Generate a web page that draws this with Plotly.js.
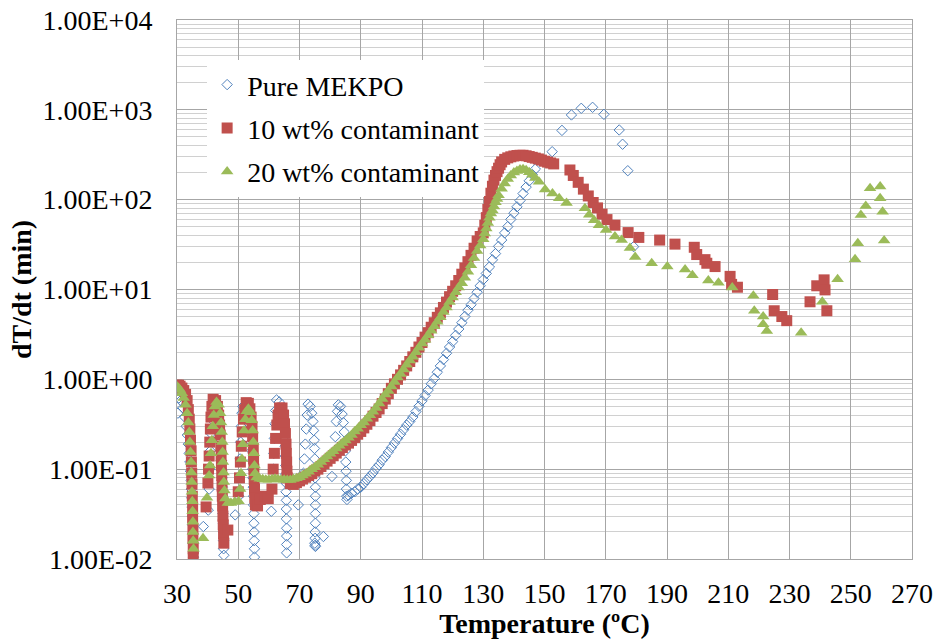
<!DOCTYPE html>
<html>
<head>
<meta charset="utf-8">
<script src="https://cdn.plot.ly/plotly-3.0.1.min.js"></script>
<style>
html,body{margin:0;padding:0;background:#fff;}
#chart{width:940px;height:639px;}
</style>
</head>
<body>
<div id="chart"></div>
<script>
// ---- Pure MEKPO ----
const pureLowT = [
  30.3,30.6,31.2,31.9,32.5,33.0,33.4,33.7,34.0,34.2,34.4,34.6,34.7,34.8,34.9,35.0,35.1,35.2,35.3,35.3,35.4,
  38.6,40.2,40.5,40.7,40.9,41.1,41.3,41.6,
  42.3,42.9,43.4,43.8,44.1,44.3,44.5,44.6,44.7,44.8,44.9,45.0,45.0,45.1,45.1,45.2,45.2,45.3,
  49.0,50.2,50.4,50.6,50.8,51.0,51.2,51.5,
  52.3,53.0,53.5,53.9,54.2,54.4,54.6,54.7,54.8,54.9,55.0,55.0,55.1,55.1,55.2,55.2,55.3,55.3,
  60.8,61.4,61.6,61.8,62.0,62.2,62.5,
  63.4,64.1,64.6,64.9,65.1,65.3,65.4,65.5,65.5,65.6,65.6,65.7,65.7,65.7,65.8,65.8,65.8,65.8,
  69.6,71.3,71.6,71.9,72.2,72.5,72.8,
  73.5,74.0,74.4,74.6,74.8,74.9,75.0,75.1,75.1,75.2,75.2,75.2,75.2,75.2,75.1,75.1,75.0,75.1,75.2,
  77.8,
  80.6,81.2,81.7,82.0,82.4,82.7,
  83.4,83.9,84.3,84.6,84.8,85.0,85.1,85.2,85.3,85.3,85.4,85.5
];
const pureLowRate = [
  0.42,0.62,0.58,0.48,0.38,0.30,0.24,0.19,0.15,0.12,0.095,0.075,0.06,0.048,0.038,0.03,0.024,0.019,0.015,0.012,0.0105,
  0.023,0.035,0.06,0.1,0.16,0.25,0.36,0.46,
  0.45,0.38,0.31,0.25,0.2,0.16,0.125,0.1,0.08,0.063,0.05,0.04,0.032,0.025,0.02,0.016,0.013,0.011,
  0.031,0.05,0.08,0.13,0.2,0.3,0.42,0.5,
  0.48,0.4,0.32,0.26,0.2,0.16,0.125,0.1,0.08,0.063,0.05,0.04,0.032,0.025,0.02,0.016,0.013,0.0105,
  0.034,0.1,0.15,0.22,0.32,0.45,0.59,
  0.56,0.46,0.37,0.29,0.23,0.18,0.14,0.11,0.088,0.07,0.056,0.045,0.036,0.028,0.022,0.018,0.0145,0.0117,
  0.04,0.09,0.13,0.19,0.28,0.4,0.53,
  0.5,0.42,0.34,0.27,0.21,0.17,0.13,0.1,0.08,0.063,0.05,0.04,0.032,0.025,0.02,0.017,0.015,0.0142,0.0138,
  0.0178,
  0.083,0.14,0.23,0.34,0.44,0.52,
  0.5,0.41,0.33,0.26,0.2,0.16,0.12,0.095,0.075,0.06,0.05,0.046
];
const pureRiseT = [
  86,87,88,89,90,91,92,93,94,95,96,97,98,99,100,101,102,103,104,105,
  106,107,108,109,110,111,112,113,114,115,116,117,118,119,120,121,122,123,124,125,
  126,127,128,129,130,131,132,133,134,135,136,137,138,139,140,141,142,143,144,145,146,147
];
const pureRiseRate = [
  0.051,0.054,0.056,0.060,0.063,0.069,0.076,0.083,0.091,0.102,0.112,0.126,0.138,0.155,0.174,0.195,0.219,0.245,0.275,0.309,
  0.339,0.380,0.437,0.501,0.575,0.661,0.759,0.891,1.02,1.20,1.41,1.66,1.95,2.29,2.63,3.09,3.63,4.27,5.01,5.89,
  6.76,7.94,9.33,11.0,12.9,15.1,17.8,21.4,25.1,30.2,35.5,42.7,50.1,60.3,70.8,83.2,97.7,117,138,162,191,219
];
const pureTailT = [152.5,155.7,158.8,162.0,165.7,169.4,174.4,175.5,177.2,179.1];
const pureTailRate = [342,590,877,1040,1067,891,597,414,210,30];

// ---- 10 wt% contaminant ----
const c10LowT = [
  30.0,30.5,31.0,31.6,32.2,32.8,33.3,33.7,34.0,34.2,34.4,34.6,34.7,34.8,34.9,35.0,35.1,35.1,35.2,35.2,35.3,35.3,
  39.5,
  40.1,40.3,40.5,40.7,40.9,41.1,41.4,41.8,
  42.6,43.2,43.6,43.9,44.1,44.3,44.4,44.5,44.6,44.7,44.8,44.9,45.0,45.1,45.2,45.3,46.6,
  50.0,50.4,50.7,51.0,51.3,51.7,52.1,52.6,
  53.3,53.8,54.2,54.5,54.7,54.9,55.0,55.1,55.2,55.3,55.4,55.6,56.3,57.2,58.6,59.8,
  61.0,61.4,61.8,62.2,62.6,63.0,63.5,
  64.3,64.8,65.1,65.4,65.6,65.7,65.8,65.9,66.0
];
const c10LowRate = [
  0.86,0.86,0.84,0.8,0.75,0.68,0.58,0.46,0.36,0.28,0.21,0.16,0.12,0.09,0.068,0.05,0.038,0.029,0.022,0.017,0.013,0.0105,
  0.038,
  0.07,0.1,0.14,0.2,0.28,0.38,0.5,0.6,
  0.58,0.5,0.4,0.31,0.24,0.18,0.14,0.11,0.085,0.065,0.05,0.039,0.03,0.024,0.019,0.015,0.021,
  0.056,0.08,0.12,0.18,0.26,0.36,0.46,0.55,
  0.54,0.47,0.38,0.3,0.23,0.17,0.13,0.1,0.077,0.06,0.048,0.04,0.039,0.046,0.05,0.047,
  0.06,0.1,0.15,0.22,0.31,0.4,0.48,
  0.48,0.4,0.32,0.25,0.19,0.15,0.12,0.095,0.08
];
const c10RiseT = [
  67,68,69,70,71,72,73,74,75,76,77,78,79,80,81,82,83,84,85,86,
  87,88,89,90,91,92,93,94,95,96,97,98,99,100,101,102,103,104,105,106,
  107,108,109,110,111,112,113,114,115,116,117,118,119,120,121,122,123,124,125,126,
  127,128,129,130,130.5,131,131.5,132,132.5,133,133.5,134,134.5,135,135.5,
  136,137,138,139,140,141,142,143,144,145,146,147,148,149,150,151,152,153
];
const c10RiseRate = [
  0.0692,0.0676,0.0708,0.0741,0.0776,0.0813,0.0851,0.0891,0.0955,0.100,0.107,0.115,0.123,0.132,0.141,0.151,0.162,0.174,0.186,0.195,
  0.209,0.224,0.245,0.263,0.288,0.316,0.347,0.389,0.427,0.468,0.537,0.603,0.692,0.794,0.891,1.00,1.12,1.26,1.41,1.58,
  1.78,2.00,2.29,2.57,2.95,3.31,3.80,4.27,4.90,5.50,6.31,7.24,8.32,9.55,11.0,12.6,14.8,17.4,20.4,24.0,
  28.8,34.7,38.9,42.7,52,63.1,78,95.5,118,141,165,186,205,224,245,
  263,281,292,300,306,310,312,312,308,302,296,290,284,276,268,262,256,250
];
const c10TailT = [158.3,159.4,161.0,162.7,164.3,165.9,167.3,168.8,170.4,173.0,177.3,180.8,187.6,192.6,198.9,199.7,202.4,203.0,205.7,210.6,211.1,213.0,224.5,225.0,227.5,229.1,236.7,238.9,241.3,241.6,242.2];
const c10TailRate = [214,186,156,131,110,93,81,69,60,52,43,38,35.5,32,29.5,24.5,21.5,19.6,18,14,11.4,10.6,8.8,5.8,5.0,4.5,7.3,11,12.8,9.9,5.8];

// ---- 20 wt% contaminant ----
const c20LowT = [
  30.0,30.5,31.0,31.6,32.2,32.8,33.3,33.7,34.0,34.2,34.4,34.6,34.7,34.8,34.9,35.0,35.1,35.2,35.2,35.3,35.4,
  38.5,39.8,
  40.5,40.8,41.1,41.4,41.7,42.0,42.4,42.9,
  43.6,44.1,44.4,44.6,44.8,44.9,45.0,45.2,45.3,45.5,45.8,46.6,47.6,48.8,50.1,
  50.6,50.9,51.2,51.5,51.9,52.3,52.8,53.3,
  54.0,54.4,54.7,54.9,55.1,55.3,55.5,56.0,57.0,58.0,59.0,60.0,61.0,62.0,63.0,64.0,65.0
];
const c20LowRate = [
  0.83,0.8,0.76,0.7,0.62,0.52,0.42,0.33,0.26,0.2,0.155,0.12,0.092,0.072,0.056,0.044,0.034,0.026,0.02,0.016,0.013,
  0.017,0.048,
  0.085,0.11,0.15,0.21,0.3,0.4,0.5,0.56,
  0.52,0.42,0.33,0.26,0.2,0.155,0.12,0.092,0.072,0.058,0.047,0.042,0.042,0.043,0.044,
  0.06,0.09,0.13,0.19,0.27,0.36,0.44,0.47,
  0.43,0.35,0.27,0.2,0.15,0.11,0.09,0.081,0.078,0.077,0.076,0.076,0.077,0.078,0.077,0.076,0.076
];
const c20RiseT = [
  66,67,68,69,70,71,72,73,74,75,76,77,78,79,80,81,82,83,84,85,
  86,87,88,89,90,91,92,93,94,95,96,97,98,99,100,101,102,103,104,105,
  106,107,108,109,110,111,112,113,114,115,116,117,118,119,120,121,122,123,124,125,
  126,127,128,129,130,130.5,131,131.5,132,132.5,133,133.5,134,134.5,135,
  136,137,138,139,140,141,142,143,144,145,146,147
];
const c20RiseRate = [
  0.0759,0.0759,0.0776,0.0794,0.0813,0.0851,0.0891,0.0933,0.100,0.105,0.112,0.120,0.129,0.138,0.148,0.158,0.170,0.182,0.195,0.209,
  0.224,0.240,0.263,0.282,0.309,0.331,0.363,0.398,0.437,0.479,0.537,0.603,0.676,0.741,0.832,0.933,1.05,1.15,1.29,1.45,
  1.62,1.78,2.00,2.24,2.51,2.75,3.09,3.47,3.89,4.37,4.90,5.62,6.31,7.24,8.13,9.33,10.5,11.7,13.5,15.8,
  18.6,22.4,26.9,30.9,36.3,42,47.9,55,63.1,70,75.9,84,93.3,102,112,
  132,151,170,186,200,209,216,218,213,202,190,174
];
const c20TailT = [148.2,150.2,152.6,154.8,157.2,163.2,164.6,166.2,167.8,170.1,173.0,175.2,177.9,179.6,185.0,190.1,195.9,198.3,203.5,206.8,211.3,218.2,218.5,221.4,221.4,222.6,233.8,240.7,245.7,251.4,252.3,253.3,254.9,256.3,259.6,259.6,260.4,260.9];
const c20TailRate = [158,130,117,104,92,80,68,59,52,46,39,35.5,29,23,19.6,18,16.7,14.4,12.6,11.9,10.5,8.5,5.8,5.0,4.1,3.45,3.3,7.3,13,21.7,32.7,67.6,85,134,140,104,73.5,35];

// ---- axis ticks ----
const yTickVals = [0.01, 0.1, 1, 10, 100, 1000, 10000];
const yTickText = ['1.00E-02','1.00E-01','1.00E+00','1.00E+01','1.00E+02','1.00E+03','1.00E+04'];
const seriesNames = ['Pure MEKPO', '10 wt% contaminant', '20 wt% contaminant'];

const FONT = 'Liberation Serif, Times New Roman, serif';
const TXT = {family: FONT, size: 28, color: '#000000'};

const traces = [
  {
    x: pureLowT.concat(pureRiseT, pureTailT),
    y: pureLowRate.concat(pureRiseRate, pureTailRate),
    name: seriesNames[0], type: 'scatter', mode: 'markers', legendgroup: 'a',
    marker: {symbol: 'diamond-open', size: 8, color: '#4F81BD', line: {width: 1, color: '#4F81BD'}}
  },
  {
    x: c10LowT.concat(c10RiseT, c10TailT),
    y: c10LowRate.concat(c10RiseRate, c10TailRate),
    name: seriesNames[1], type: 'scatter', mode: 'markers', legendgroup: 'b',
    marker: {symbol: 'square', size: 11, color: '#C0504D'}
  },
  {
    x: c20LowT.concat(c20RiseT, c20TailT),
    y: c20LowRate.concat(c20RiseRate, c20TailRate),
    name: seriesNames[2], type: 'scatter', mode: 'markers', legendgroup: 'c',
    marker: {symbol: 'triangle-up', size: 11, color: '#9BBB59'}
  }
];

const layout = {
  width: 940, height: 639,
  margin: {l: 177, r: 28, t: 20, b: 80},
  paper_bgcolor: '#ffffff', plot_bgcolor: '#ffffff',
  font: TXT,
  showlegend: true,
  legend: {
    x: 0.041, y: 0.926, xanchor: 'left', yanchor: 'top',
    bgcolor: '#ffffff', borderwidth: 0,
    font: TXT,
    tracegroupgap: 4
  },
  xaxis: {
    range: [30, 270], tickmode: 'linear', tick0: 30, dtick: 20,
    showgrid: true, gridcolor: '#a6a6a6', gridwidth: 1,
    zeroline: false, showline: true, mirror: true, linecolor: '#a6a6a6', linewidth: 1,
    ticks: '', ticklabelstandoff: 9,
    tickfont: TXT,
    title: {text: '<b>Temperature (ºC)</b>', font: TXT, standoff: 5}
  },
  yaxis: {
    type: 'log', range: [-2, 4], tickmode: 'array', tickvals: yTickVals, ticktext: yTickText,
    showgrid: true, gridcolor: '#a6a6a6', gridwidth: 1,
    minor: {dtick: 'D1', showgrid: true, gridcolor: '#d0d0d0', gridwidth: 1, ticks: ''},
    zeroline: false, showline: true, mirror: true, linecolor: '#a6a6a6', linewidth: 1,
    ticks: '', ticklabelstandoff: 18,
    tickfont: TXT,
    title: {text: '<b>dT/dt (min)</b>', font: TXT, standoff: 2}
  }
};

Plotly.newPlot('chart', traces, layout, {displayModeBar: false, staticPlot: true});
</script>
</body>
</html>
